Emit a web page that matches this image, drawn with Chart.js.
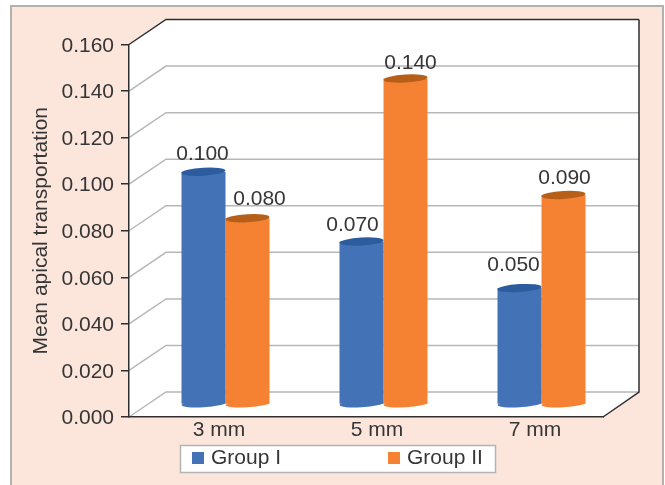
<!DOCTYPE html>
<html>
<head>
<meta charset="utf-8">
<script src="https://cdn.jsdelivr.net/npm/chart.js@4"></script>
<style>
  html, body { margin: 0; background: #fff; }
  #panel { position: absolute; left: 10px; top: 5px; width: 650px; height: 480px; background: #fce6dc; border: 2px solid #b4b0ae; border-bottom: none; }
  #wrap { position: absolute; left: 0; top: 0; width: 665px; height: 485px; }
</style>
</head>
<body>
<div id="panel"></div>
<div id="wrap"><canvas id="chart"></canvas></div>
<script>
const categories = ['3 mm', '5 mm', '7 mm']
const groupOne = [0.100, 0.070, 0.050]
const groupTwo = [0.080, 0.140, 0.090]
const seriesNames = ['Group I', 'Group II']
const axisTitle = 'Mean apical transportation'

const FONT = '"Liberation Sans", Arial, sans-serif'
const INK = '#363636'
const DEPTH_X = 37
const DEPTH_Y = 25
// bars stand halfway back on the floor
const BAR_SHIFT_X = 17.5
const BAR_SHIFT_Y = 12.5
const CAP_COLORS = ['#2c5c9e', '#b65f18']
// data labels are hand placed around the bars in the original
const labelNudge = [
  [[-1, -17], [-9, -16], [-6, -23]],
  [[12, -19], [5, -15], [1, -17]]
]

const wall = {
  id: 'wall',
  beforeDraw(chart) {
    const { ctx, chartArea: a, scales: { y } } = chart
    const backRight = a.right + DEPTH_X - 1
    ctx.save()
    ctx.fillStyle = '#fff'
    ctx.beginPath()
    ctx.moveTo(a.left, a.top)
    ctx.lineTo(a.left + DEPTH_X, a.top - DEPTH_Y)
    ctx.lineTo(backRight, a.top - DEPTH_Y)
    ctx.lineTo(backRight, a.bottom - DEPTH_Y)
    ctx.lineTo(a.right, a.bottom)
    ctx.lineTo(a.left, a.bottom)
    ctx.closePath()
    ctx.fill()

    ctx.lineWidth = 1.5
    y.ticks.forEach(t => {
      const py = y.getPixelForValue(t.value)
      ctx.strokeStyle = t.value === 0.16 ? '#2e2e2e' : '#b7b7bb'
      ctx.beginPath()
      ctx.moveTo(a.left, py)
      ctx.lineTo(a.left + DEPTH_X, py - DEPTH_Y)
      ctx.lineTo(backRight, py - DEPTH_Y)
      ctx.stroke()
    })

    ctx.strokeStyle = '#2e2e2e'
    ctx.beginPath()
    ctx.moveTo(backRight, a.top - DEPTH_Y)
    ctx.lineTo(backRight, a.bottom - DEPTH_Y)
    ctx.lineTo(a.right, a.bottom)
    ctx.stroke()
    ctx.restore()
  }
}

const cylinders = {
  id: 'cylinders',
  beforeDatasetDraw(chart) {
    chart.ctx.save()
    chart.ctx.translate(BAR_SHIFT_X, -BAR_SHIFT_Y)
  },
  afterDatasetDraw(chart, args) {
    const { ctx } = chart
    const ds = chart.data.datasets[args.index]
    args.meta.data.forEach(bar => {
      const rx = bar.width / 2
      ctx.fillStyle = ds.backgroundColor
      ctx.beginPath()
      ctx.ellipse(bar.x, bar.base, rx, 3.5, -0.06, 0, Math.PI * 2)
      ctx.fill()
      ctx.fillStyle = CAP_COLORS[args.index]
      ctx.beginPath()
      ctx.ellipse(bar.x, bar.y, rx, 4, -0.06, 0, Math.PI * 2)
      ctx.fill()
    })
    ctx.restore()
  }
}

const valueLabels = {
  id: 'valueLabels',
  afterDraw(chart) {
    const { ctx } = chart
    ctx.save()
    ctx.font = '21px ' + FONT
    ctx.fillStyle = INK
    ctx.textAlign = 'center'
    ctx.textBaseline = 'middle'
    chart.data.datasets.forEach((ds, d) => {
      chart.getDatasetMeta(d).data.forEach((bar, i) => {
        const [nx, ny] = labelNudge[d][i]
        ctx.fillText(ds.data[i].toFixed(3), bar.x + BAR_SHIFT_X + nx, bar.y - BAR_SHIFT_Y + ny)
      })
    })
    ctx.restore()
  }
}

// boxed legend with the wide gap of the original, built from the datasets
const boxedLegend = {
  id: 'boxedLegend',
  afterDraw(chart) {
    const { ctx } = chart
    const starts = [192, 388]
    ctx.save()
    ctx.fillStyle = '#fff'
    ctx.strokeStyle = '#b4b4b4'
    ctx.lineWidth = 1.5
    ctx.fillRect(180.5, 445.5, 315, 27)
    ctx.strokeRect(180.5, 445.5, 315, 27)
    ctx.font = '21px ' + FONT
    ctx.textBaseline = 'middle'
    chart.data.datasets.forEach((ds, d) => {
      ctx.fillStyle = ds.backgroundColor
      ctx.fillRect(starts[d], 452, 12, 12)
      ctx.fillStyle = INK
      ctx.fillText(ds.label, starts[d] + 19, 458)
    })
    ctx.restore()
  }
}

new Chart(document.getElementById('chart'), {
  type: 'bar',
  data: {
    labels: categories,
    datasets: [
      { label: seriesNames[0], data: groupOne, backgroundColor: '#4472b6' },
      { label: seriesNames[1], data: groupTwo, backgroundColor: '#f58233' }
    ]
  },
  plugins: [wall, cylinders, valueLabels, boxedLegend],
  options: {
    responsive: true,
    maintainAspectRatio: false,
    animation: false,
    layout: { padding: { top: 44.5, right: 62 } },
    datasets: { bar: { categoryPercentage: 0.557, barPercentage: 1 } },
    plugins: { legend: { display: false }, tooltip: { enabled: false } },
    scales: {
      x: {
        grid: { display: false, drawTicks: false },
        border: { color: '#2e2e2e', width: 1.5 },
        ticks: { color: INK, font: { family: FONT, size: 21 }, padding: 1, labelOffset: 11, maxRotation: 0 },
        afterFit: s => { s.height = 68 }
      },
      y: {
        min: 0,
        max: 0.16,
        grid: { drawOnChartArea: false, drawTicks: true, tickLength: 8, color: '#2e2e2e', lineWidth: 1.5 },
        border: { color: '#2e2e2e', width: 1.5 },
        ticks: { stepSize: 0.02, color: INK, font: { family: FONT, size: 21 }, padding: 7, labelOffset: 1.5, callback: v => v.toFixed(3) },
        title: { display: true, text: axisTitle, color: INK, font: { family: FONT, size: 21 }, padding: { top: 29, bottom: 0 } },
        afterFit: s => { s.width = 129 }
      }
    }
  }
})
</script>
</body>
</html>
